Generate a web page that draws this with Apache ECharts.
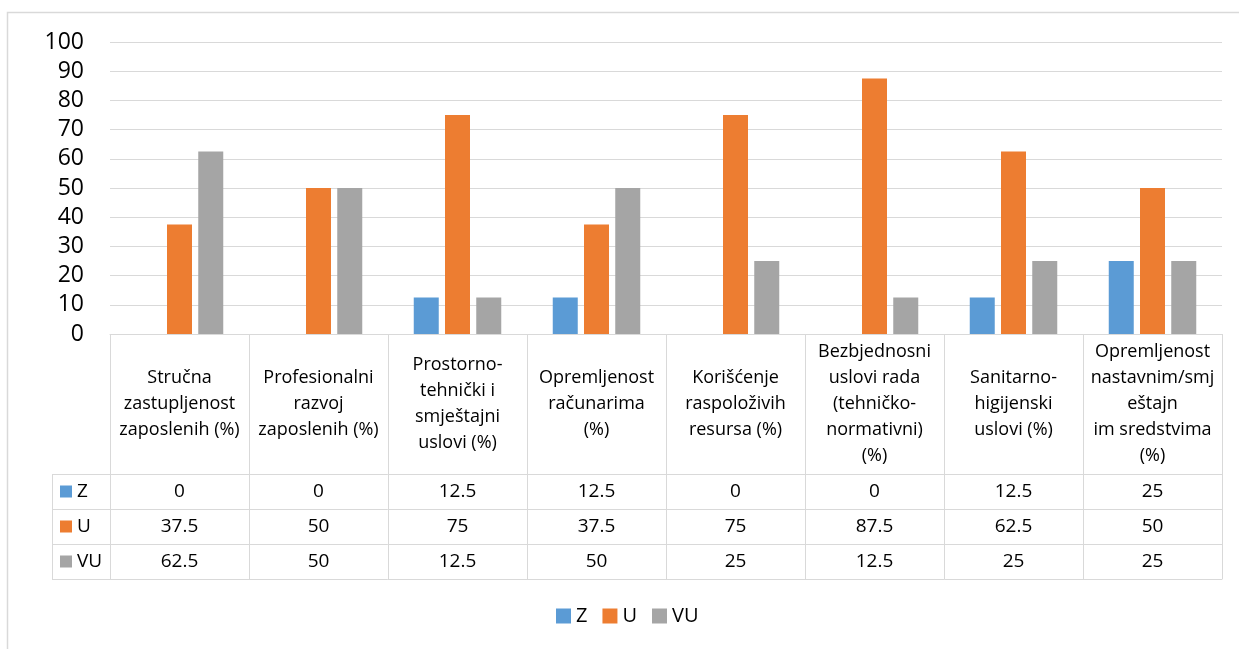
<!DOCTYPE html>
<html><head><meta charset="utf-8">
<script src="https://cdn.jsdelivr.net/npm/echarts@6/dist/echarts.min.js"></script>
<style>html,body{margin:0;padding:0;background:#fff}#c{width:1239px;height:649px}</style>
</head><body><div id="c"></div>
<script>
// ---- data ----
const categories = [
  'Stručna\nzastupljenost\nzaposlenih (%)',
  'Profesionalni\nrazvoj\nzaposlenih (%)',
  'Prostorno-\ntehnički i\nsmještajni\nuslovi (%)',
  'Opremljenost\nračunarima\n(%)',
  'Korišćenje\nraspoloživih\nresursa (%)',
  'Bezbjednosni\nuslovi rada\n(tehničko-\nnormativni)\n(%)',
  'Sanitarno-\nhigijenski\nuslovi (%)',
  'Opremljenost\nnastavnim/smj\neštajn\nim sredstvima\n(%)'
];
const seriesNames = ['Z', 'U', 'VU'];
const zValues  = [0, 0, 12.5, 12.5, 0, 0, 12.5, 25];
const uValues  = [37.5, 50, 75, 37.5, 75, 87.5, 62.5, 50];
const vuValues = [62.5, 50, 12.5, 50, 25, 12.5, 25, 25];
const yMin = 0, yMax = 100, yInterval = 10;

// ---- style / layout ----
const colors = ['#5B9BD5', '#ED7D31', '#A5A5A5'];
const FONT = 'Open Sans';
const GRID_LINE = '#D9D9D9';
const gridLeft = 110, gridRight = 17, gridTop = 42, gridBottomY = 334;
const headerH = 140, rowH = 35, rowLabelLeft = 52;
const allValues = [zValues, uValues, vuValues];

const chart = echarts.init(document.getElementById('c'), null, {renderer: 'canvas'});

const xAxes = [{
  type: 'category', data: categories, position: 'bottom', gridIndex: 0,
  axisLine: {show: true, lineStyle: {color: GRID_LINE, width: 1}},
  axisTick: {show: true, length: headerH, lineStyle: {color: GRID_LINE, width: 1}},
  axisLabel: {interval: 0, margin: headerH / 2, verticalAlign: 'middle', align: 'center',
    fontSize: 18, lineHeight: 26, color: '#000', fontFamily: FONT},
  splitLine: {show: false}
}];
allValues.forEach((vals, i) => {
  xAxes.push({
    type: 'category', data: vals.map(v => String(v)), position: 'bottom', gridIndex: 0,
    offset: headerH + rowH * i,
    axisLine: {show: true, lineStyle: {color: GRID_LINE, width: 1}},
    axisTick: {show: true, length: rowH, lineStyle: {color: GRID_LINE, width: 1}},
    axisLabel: {interval: 0, margin: rowH / 2, verticalAlign: 'middle', align: 'center',
      fontSize: 19, color: '#000', fontFamily: FONT},
    splitLine: {show: false}
  });
});
xAxes.push({
  type: 'category', data: categories, position: 'bottom', gridIndex: 0,
  offset: headerH + rowH * 3,
  axisLine: {show: true, lineStyle: {color: GRID_LINE, width: 1}},
  axisTick: {show: false}, axisLabel: {show: false}, splitLine: {show: false}
});

const graphics = [
  {type: 'rect', shape: {x: 7.5, y: 12.5, width: 1400, height: 800},
   style: {fill: 'none', stroke: GRID_LINE, lineWidth: 1.5}, silent: true, z: -1}
];
const tableTop = gridBottomY + headerH;
for (let i = 0; i <= 3; i++) {
  const y = tableTop + rowH * i + 0.5;
  graphics.push({type: 'line', shape: {x1: rowLabelLeft, y1: y, x2: gridLeft, y2: y},
    style: {stroke: GRID_LINE, lineWidth: 1}, silent: true});
}
graphics.push({type: 'line', shape: {x1: rowLabelLeft + 0.5, y1: tableTop, x2: rowLabelLeft + 0.5, y2: tableTop + rowH * 3 + 0.5},
  style: {stroke: GRID_LINE, lineWidth: 1}, silent: true});
seriesNames.forEach((name, i) => {
  const cy = tableTop + rowH * i + rowH / 2;
  graphics.push({type: 'rect', shape: {x: 60, y: cy - 6, width: 12, height: 12},
    style: {fill: colors[i]}, silent: true});
  graphics.push({type: 'text', x: 77, y: cy,
    style: {text: name, fill: '#000', font: '19px "' + FONT + '"', verticalAlign: 'middle', align: 'left'}, silent: true});
});

chart.setOption({
  animation: false,
  color: colors,
  grid: {left: gridLeft, right: gridRight, top: gridTop, bottom: 649 - gridBottomY, containLabel: false},
  legend: {
    data: seriesNames, left: 556, top: 606, icon: 'rect', itemWidth: 15, itemHeight: 15,
    itemGap: 15, padding: 0,
    textStyle: {fontSize: 20, color: '#000', fontFamily: FONT}
  },
  xAxis: xAxes,
  yAxis: {
    type: 'value', min: yMin, max: yMax, interval: yInterval,
    axisLine: {show: false}, axisTick: {show: false},
    axisLabel: {fontSize: 23, color: '#000', margin: 26, fontFamily: FONT},
    splitLine: {lineStyle: {color: GRID_LINE, width: 1}}
  },
  series: allValues.map((vals, i) => ({
    name: seriesNames[i], type: 'bar', data: vals, xAxisIndex: 0, yAxisIndex: 0,
    barWidth: 25, barGap: '25%', itemStyle: {color: colors[i]}
  })),
  graphic: graphics
});
</script>
</body></html>
